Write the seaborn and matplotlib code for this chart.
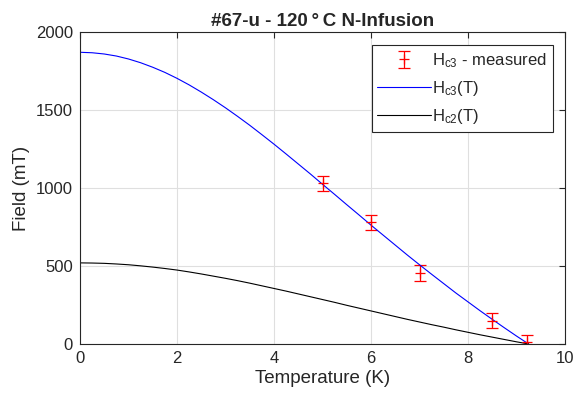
import pandas as pd
import matplotlib.pyplot as plt
import seaborn as sns

# --- Data ---
temp_curve = [0.0, 0.25, 0.5, 0.75, 1.0, 1.25, 1.5, 1.75, 2.0, 2.25, 2.5,
              2.75, 3.0, 3.25, 3.5, 3.75, 4.0, 4.25, 4.5, 4.75, 5.0,
              5.25, 5.5, 5.75, 6.0, 6.25, 6.5, 6.75, 7.0, 7.25, 7.5,
              7.75, 8.0, 8.25, 8.5, 8.75, 9.0, 9.25]
hc3_curve = [1870, 1867, 1859, 1846, 1827, 1803, 1774, 1741, 1703, 1661, 1615,
             1566, 1514, 1459, 1402, 1342, 1281, 1218, 1154, 1090, 1024,
             959, 893, 828, 762, 698, 634, 570, 508, 447, 387,
             327, 270, 213, 158, 104, 51, 0]
hc2_curve = [520, 519, 517, 513, 508, 501, 493, 484, 474, 462, 449,
             435, 421, 406, 390, 373, 356, 339, 321, 303, 285,
             267, 248, 230, 212, 194, 176, 158, 141, 124, 108,
             91, 75, 59, 44, 29, 14, 0]

temp_meas = [5.0, 6.0, 7.0, 8.5, 9.22]
hc3_meas = [1030, 780, 455, 150, 10]
hc3_err = [50, 50, 50, 50, 50]

sns.set_style("whitegrid")
plt.rcParams['font.family'] = ['Liberation Sans', 'DejaVu Sans']
plt.rcParams['mathtext.fontset'] = 'custom'
plt.rcParams['mathtext.rm'] = 'Liberation Sans'
plt.rcParams['mathtext.it'] = 'Liberation Sans:italic'

curves = pd.DataFrame({'T': temp_curve, 'Hc3': hc3_curve, 'Hc2': hc2_curve})

fig = plt.figure(figsize=(5.73, 3.99), dpi=100)
ax = fig.add_axes([80 / 573, 1 - 344 / 399, 485 / 573, 312 / 399])

ax.errorbar(temp_meas, hc3_meas, yerr=hc3_err, fmt='+', color='red',
            markersize=7, capsize=4.5, elinewidth=0.9, capthick=0.9,
            mew=0.9, label=r'H$_{\mathrm{c3}}$ - measured')
sns.lineplot(data=curves, x='T', y='Hc3', color='blue', linewidth=0.8,
             ax=ax, label=r'H$_{\mathrm{c3}}$(T)')
sns.lineplot(data=curves, x='T', y='Hc2', color='black', linewidth=0.8,
             ax=ax, label=r'H$_{\mathrm{c2}}$(T)')

ax.set_xlim(0, 10)
ax.set_ylim(0, 2000)
ax.set_xticks([0, 2, 4, 6, 8, 10])
ax.set_yticks([0, 500, 1000, 1500, 2000])
ax.grid(True, color='#dfdfdf', linewidth=0.8)
for s in ax.spines.values():
    s.set_color('#262626')
    s.set_linewidth(0.8)
ax.tick_params(direction='in', length=4, width=0.8, color='#262626',
               labelcolor='#262626', labelsize=12, top=True, right=True,
               pad=5)

ax.set_xlabel('Temperature (K)', fontsize=13.5, color='#262626', labelpad=3)
ax.set_ylabel('Field (mT)', fontsize=13.5, color='#262626', labelpad=4)
ax.set_title('#67-u - 120\u2009°\u2009C N-Infusion', fontsize=13.5,
             fontweight='bold', pad=4)

# errorbar entry first, like the reference
handles, labels = ax.get_legend_handles_labels()
order = [labels.index(l) for l in labels if 'measured' in l] + \
        [i for i, l in enumerate(labels) if 'measured' not in l]
leg = ax.legend([handles[i] for i in order], [labels[i] for i in order],
                loc='upper right', bbox_to_anchor=(0.975, 0.957),
                borderaxespad=0, fontsize=12, handlelength=3.2,
                handletextpad=0.1, labelspacing=0.55, fancybox=False,
                framealpha=1, edgecolor='#262626', borderpad=0.35)
leg.get_frame().set_linewidth(0.8)

plt.savefig('out.png', dpi=100)
